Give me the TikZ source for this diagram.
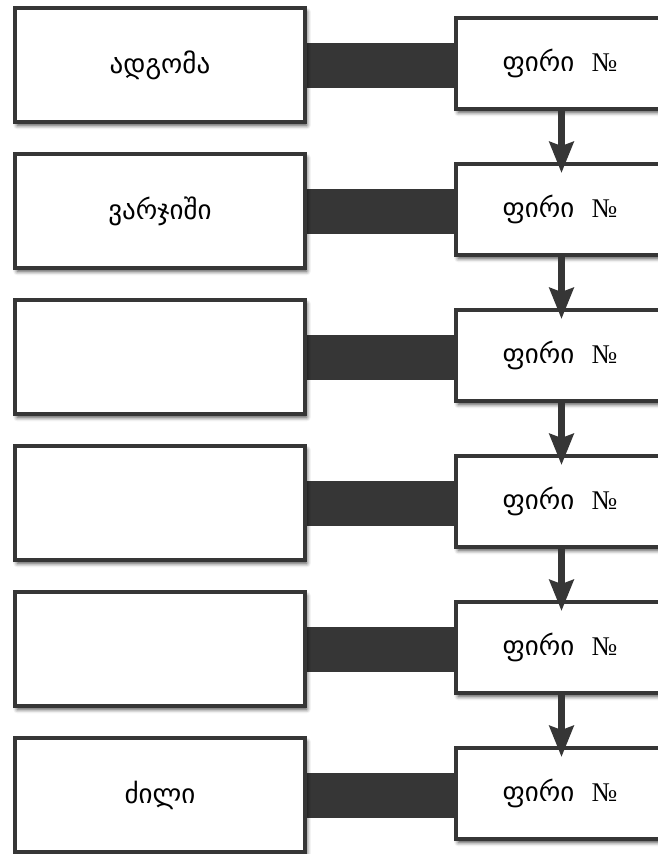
\documentclass[tikz,border=0pt]{standalone}
\usepackage{fontspec}
\setmainfont{DejaVu Sans}
\newfontfamily\numfont{Liberation Serif}
\usetikzlibrary{shadows.blur,arrows.meta}
\definecolor{dk}{HTML}{363636}
\tikzset{
  lbox/.style={draw=dk, line width=4.4pt, fill=white, minimum width=289.6pt, minimum height=113.6pt, inner sep=0pt,
    blur shadow={shadow xshift=2pt, shadow yshift=-3.5pt, shadow blur radius=4pt, shadow opacity=75}, font=\fontsize{27}{30}\selectfont},
  rbox/.style={draw=dk, line width=4.4pt, fill=white, minimum width=207.6pt, minimum height=90.6pt, inner sep=0pt,
    blur shadow={shadow xshift=2pt, shadow yshift=-3.5pt, shadow blur radius=4pt, shadow opacity=75}, font=\fontsize{27}{30}\selectfont},
  bar/.style={draw=dk, line width=45pt},
  flow/.style={draw=dk, line width=6.5pt, -{Stealth[length=31pt, width=24pt, inset=4pt]}}
}
\newcommand{\firi}{ფირი\ \ {\numfont\fontsize{27}{30}\selectfont №}}
\begin{document}
\begin{tikzpicture}
\useasboundingbox (0pt,0pt) rectangle (658pt,-854pt);
% bars (behind boxes)
\foreach \i in {0,...,5}{
  \draw[bar] (307pt,{-65.5pt-146pt*\i}) -- (456pt,{-65.5pt-146pt*\i});
}
\node[lbox] (l1) at (160pt,-65pt) {ადგომა};
\node[lbox] (l2) at (160pt,-211pt) {ვარჯიში};
\node[lbox] (l3) at (160pt,-357pt) {};
\node[lbox] (l4) at (160pt,-503pt) {};
\node[lbox] (l5) at (160pt,-649pt) {};
\node[lbox] (l6) at (160pt,-795pt) {ძილი};
\node[rbox] (r1) at (560pt,-63.5pt) {\firi};
\node[rbox] (r2) at (560pt,-209.5pt) {\firi};
\node[rbox] (r3) at (560pt,-355.5pt) {\firi};
\node[rbox] (r4) at (560pt,-501.5pt) {\firi};
\node[rbox] (r5) at (560pt,-647.5pt) {\firi};
\node[rbox] (r6) at (560pt,-793.5pt) {\firi};
\foreach \a/\b in {r1/r2,r2/r3,r3/r4,r4/r5,r5/r6}{
  \draw[flow] ([xshift=1.5pt]\a.south) -- ([xshift=1.5pt,yshift=-11pt]\b.north);
}
\end{tikzpicture}
\end{document}
